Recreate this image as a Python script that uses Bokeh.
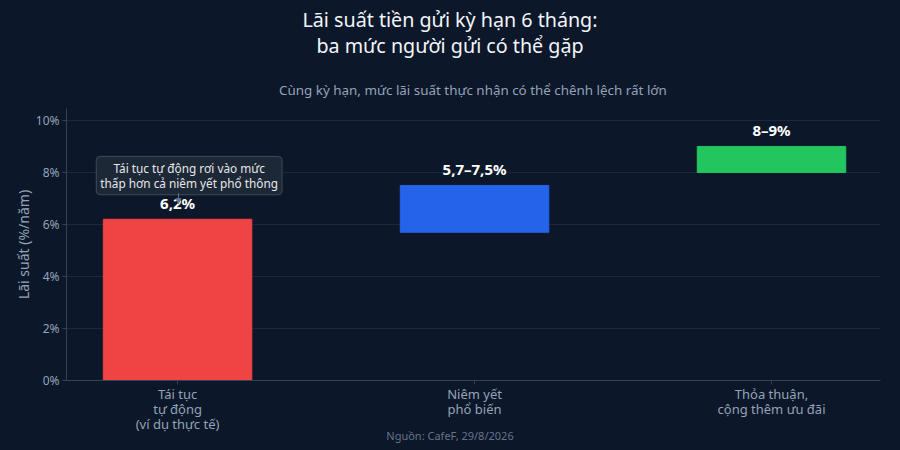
from bokeh.plotting import figure
from bokeh.models import (ColumnDataSource, Range1d, Label, FixedTicker, Arrow, NormalHead, Div)
from bokeh.layouts import column
from bokeh.core.properties import value
from bokeh.embed import file_html
from bokeh.resources import INLINE

# ---- data ----
categories = ["Tái tục\ntự động\n(ví dụ thực tế)", "Niêm yết\nphổ biến", "Thỏa thuận,\ncộng thêm ưu đãi"]
low_values = [0.0, 5.7, 8.0]
high_values = [6.2, 7.5, 9.0]
value_labels = ["6,2%", "5,7–7,5%", "8–9%"]
bar_colors = ["#ef4444", "#2563eb", "#22c55e"]
y_ticks = [0, 2, 4, 6, 8, 10]

title_lines = ["Lãi suất tiền gửi kỳ hạn 6 tháng:", "ba mức người gửi có thể gặp"]
subtitle = "Cùng kỳ hạn, mức lãi suất thực nhận có thể chênh lệch rất lớn"
source_note = "Nguồn: CafeF, 29/8/2026"
callout = "Tái tục tự động rơi vào mức\nthấp hơn cả niêm yết phổ thông"

BG = "#0c1729"
GRID = "#1c2739"
AXIS = "#354155"
MUTED = "#94a3b8"
FONT = "Noto Sans"

xs = list(range(len(categories)))
src = ColumnDataSource(dict(x=xs, bottom=low_values, top=high_values,
                            label=value_labels, color=bar_colors))

p = figure(frame_width=814, frame_height=272, output_backend="svg", toolbar_location=None,
           x_range=Range1d(-0.374, 2.367), y_range=Range1d(0, 10.46),
           min_border_left=66, min_border_right=20, min_border_top=8, min_border_bottom=51,
           background_fill_color=BG, border_fill_color=BG, outline_line_color=None,
           margin=0)

p.vbar(x="x", bottom="bottom", top="top", width=0.5, color="color", source=src)
p.text(x="x", y="top", text="label", source=src, y_offset=-16,
       text_align="center", text_baseline="middle", text_color="#ffffff",
       text_font=value(FONT), text_font_size="15px", text_font_style="bold")

# axes
p.xaxis.ticker = FixedTicker(ticks=xs)
p.xaxis.major_label_overrides = {i: c for i, c in zip(xs, categories)}
p.yaxis.ticker = FixedTicker(ticks=y_ticks)
p.yaxis.major_label_overrides = {t: f"{t}%" for t in y_ticks}
for ax in (p.xaxis[0], p.yaxis[0]):
    ax.axis_line_color = AXIS
    ax.major_tick_line_color = AXIS
    ax.major_tick_out = 4
    ax.major_tick_in = 0
    ax.minor_tick_line_color = None
    ax.major_label_text_color = MUTED
    ax.major_label_text_font = FONT
p.xaxis.major_label_text_font_size = "13px"
p.xaxis.major_label_text_line_height = 0.85
p.yaxis.major_label_text_font_size = "12px"
p.xaxis.major_label_standoff = 0
p.yaxis.major_label_standoff = 3
p.yaxis.axis_label = "Lãi suất (%/năm)"
p.yaxis.axis_label_text_color = MUTED
p.yaxis.axis_label_text_font = FONT
p.yaxis.axis_label_text_font_size = "14px"
p.yaxis.axis_label_text_font_style = "normal"
p.yaxis.axis_label_standoff = 0

p.xgrid.grid_line_color = None
p.ygrid.grid_line_color = GRID
p.ygrid.grid_line_width = 1

# callout
p.add_layout(Label(x=0.039, y=7.88, text=callout, text_align="center", text_baseline="middle",
                   text_color="#e5e7eb", text_font=FONT, text_font_size="11.8px",
                   text_line_height=0.9,
                   background_fill_color="#1f2937", background_fill_alpha=0.95,
                   border_line_color="#3f4b5d", border_line_width=1,
                   padding=4, border_radius=4))
p.add_layout(Arrow(x_start=0.003, y_start=7.2, x_end=0.003, y_end=6.8,
                   line_color="#64748b", line_width=1,
                   end=NormalHead(size=5, fill_color="#64748b", line_color="#64748b")))

head_html = (
    f'<div style="width:900px;height:100px;text-align:center;font-family:\'{FONT}\';margin:0;">'
    f'<div style="padding-top:7px;font-size:19.7px;line-height:26px;color:#f1f5f9;">'
    f'{title_lines[0]}<br>{title_lines[1]}</div>'
    f'<div style="margin-top:22px;padding-left:66px;padding-right:20px;font-size:13.4px;'
    f'line-height:18px;color:{MUTED};">{subtitle}</div>'
    f'</div>'
)
foot_html = (
    f'<div style="width:900px;text-align:center;font-family:\'{FONT}\';font-size:11px;'
    f'line-height:14px;color:#64748b;margin:0;">{source_note}</div>'
)
head = Div(text=head_html, width=900, height=100, margin=0)
foot = Div(text=foot_html, width=900, height=14, margin=(-8, 0, 0, 0))

layout = column(head, p, foot, spacing=0, margin=0)

html = file_html(layout, INLINE)
html = html.replace("<head>", "<head><style>html,body{background:%s;}</style>" % BG, 1)
open("out.html", "w").write(html)
